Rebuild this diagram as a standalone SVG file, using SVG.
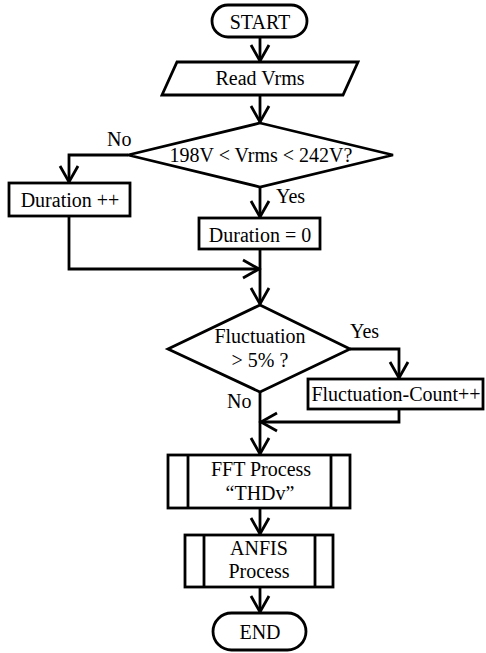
<svg xmlns="http://www.w3.org/2000/svg" width="486" height="653" viewBox="0 0 486 653">
<style>
.s{fill:#fff;stroke:#000;stroke-width:2.8}
.t{font-family:"Liberation Serif","Times New Roman",serif;font-size:20px;fill:#000}
.m{text-anchor:middle}
.c{fill:none;stroke:#000;stroke-width:2.8}
</style>
<defs>
<marker id="a" markerUnits="userSpaceOnUse" markerWidth="24" markerHeight="24" viewBox="-20 -12 24 24" refX="0" refY="0" orient="auto">
<path d="M-16,-9 L0,0 L-16,9" fill="none" stroke="#000" stroke-width="2.8"/>
</marker>
</defs>
<rect width="486" height="653" fill="#fff"/>
<g id="connectors">
<path class="c" d="M260,37 V61" marker-end="url(#a)"/>
<path class="c" d="M260,95 V122" marker-end="url(#a)"/>
<path class="c" d="M128,155 H69 V182" marker-end="url(#a)"/>
<path class="c" d="M260,187 V217" marker-end="url(#a)"/>
<path class="c" d="M260,249 V304" marker-end="url(#a)"/>
<path class="c" d="M69,216 V269 H259" marker-end="url(#a)"/>
<path class="c" d="M350,349 H399 V378" marker-end="url(#a)"/>
<path class="c" d="M260,392 V454" marker-end="url(#a)"/>
<path class="c" d="M399,409 V422 H261" marker-end="url(#a)"/>
<path class="c" d="M260,508 V534" marker-end="url(#a)"/>
<path class="c" d="M260,587 V612" marker-end="url(#a)"/>
</g>
<g id="start">
<rect class="s" x="212" y="5" width="95" height="32" rx="16"/>
<text class="t m" x="260" y="29">START</text>
</g>
<g id="read">
<polygon class="s" points="177,62 358,62 343,95 162,95"/>
<text class="t m" x="260" y="85">Read Vrms</text>
</g>
<g id="check-vrms">
<polygon class="s" points="260,123 393,155 260,187 128,155"/>
<text class="t m" x="261" y="162">198V &lt; Vrms &lt; 242V?</text>
</g>
<g id="duration-inc">
<rect class="s" x="9" y="183" width="121" height="33"/>
<text class="t m" x="70" y="207">Duration ++</text>
</g>
<g id="duration-zero">
<rect class="s" x="199" y="218" width="121" height="31"/>
<text class="t m" x="260" y="242">Duration = 0</text>
</g>
<g id="check-fluct">
<polygon class="s" points="260,305 350,349 260,392 168,349"/>
<text class="t m" x="260" y="343">Fluctuation</text>
<text class="t m" x="260" y="367">&gt; 5% ?</text>
</g>
<g id="fluct-count">
<rect class="s" x="308" y="379" width="175" height="30"/>
<text class="t m" x="396" y="401">Fluctuation-Count++</text>
</g>
<g id="fft">
<rect class="s" x="168" y="455" width="182" height="53"/>
<path class="c" d="M188,455 V508 M331,455 V508"/>
<text class="t m" x="261" y="476">FFT Process</text>
<text class="t m" x="260" y="500">“THDv”</text>
</g>
<g id="anfis">
<rect class="s" x="185" y="535" width="148" height="52"/>
<path class="c" d="M204,535 V587 M315,535 V587"/>
<text class="t m" x="259" y="555">ANFIS</text>
<text class="t m" x="259" y="578">Process</text>
</g>
<g id="end">
<rect class="s" x="213" y="613" width="93" height="37" rx="18.5"/>
<text class="t m" x="260" y="639">END</text>
</g>
<g id="labels">
<text class="t" x="107" y="146">No</text>
<text class="t" x="276" y="203">Yes</text>
<text class="t" x="350" y="338">Yes</text>
<text class="t" x="227" y="408">No</text>
</g>
</svg>
